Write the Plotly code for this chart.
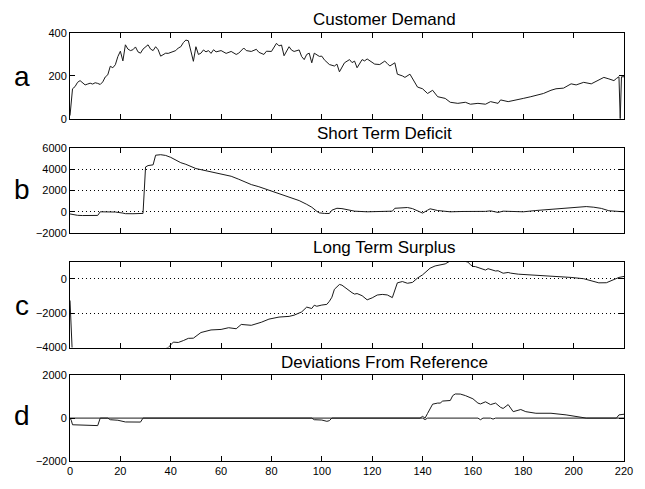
import plotly.graph_objects as go

# ---------------- data ----------------
x_ticks = [0, 20, 40, 60, 80, 100, 120, 140, 160, 180, 200, 220]

demand_x = [0, 1, 2, 3, 4, 5, 6, 7, 8, 9, 10, 11, 12, 13, 14, 15, 16, 17, 18, 19,
            20, 21, 22, 23, 24, 25, 26, 27, 28, 29, 30, 31, 32, 33, 34, 35, 36, 37, 38, 39,
            40, 41, 42, 43, 44, 45, 46, 47, 48, 49, 50, 51, 52, 53, 54, 55, 56, 57, 58, 60,
            62, 64, 66, 67, 69, 70, 72, 74, 75, 77, 78, 80, 82, 83, 84, 85, 87, 88, 89, 91,
            92, 93, 94, 95, 96, 97, 99, 100, 101, 103, 105, 106, 107, 108, 109, 111, 112, 113, 114, 116,
            117, 118, 120, 121, 123, 125, 126, 127, 129, 130, 132, 133, 135, 137, 138, 140, 142, 144, 146, 149,
            151, 154, 157, 159, 162, 165, 167, 170, 171, 174, 178, 180, 183, 186, 188, 191, 193, 196, 199, 201,
            204, 207, 209, 212, 214, 216, 217, 218, 218.5, 219, 220]
demand_y = [15, 140, 150, 170, 178, 170, 158, 162, 166, 162, 168, 165, 160, 172, 195, 205, 245, 238, 252, 290,
            315, 270, 345, 325, 318, 322, 335, 312, 306, 325, 335, 345, 325, 318, 336, 322, 292, 300, 306, 305,
            310, 312, 318, 330, 336, 355, 367, 364, 320, 268, 336, 300, 306, 321, 312, 318, 305, 322, 312, 318,
            305, 314, 300, 306, 330, 318, 314, 324, 310, 300, 315, 314, 352, 340, 344, 294, 336, 320, 314, 321,
            290, 276, 300, 306, 261, 306, 291, 292, 275, 253, 246, 255, 219, 240, 261, 276, 262, 269, 238, 276,
            270, 279, 261, 255, 253, 269, 258, 246, 261, 208, 200, 193, 208, 170, 148, 140, 118, 133, 103, 95,
            77, 72, 77, 68, 72, 68, 80, 72, 88, 80, 88, 95, 103, 110, 118, 133, 140, 143, 163, 158,
            170, 163, 174, 193, 186, 178, 188, 196, 0, 196, 196]

deficit_x = [0, 1, 3, 5, 8, 11, 12, 14, 18, 21, 22, 25, 28, 29, 30, 31, 33, 34, 36, 38,
             40, 42, 44, 46, 48, 50, 52, 55, 58, 61, 64, 67, 70, 72, 75, 78, 80, 83, 86, 88,
             91, 94, 96, 98, 99, 101, 103, 104, 106, 108, 110, 113, 118, 122, 126, 128, 129, 131, 134, 136,
             138, 140, 142, 143, 146, 151, 156, 162, 165, 167, 170, 172, 174, 177, 180, 185, 191, 195, 199, 202,
             205, 208, 211, 214, 217, 220]
deficit_y = [-200, -250, -330, -350, -350, -340, 0, 10, -20, -120, -175, -180, -180, -150, 4200, 4330, 4400, 5300, 5350, 5280,
             5100, 4850, 4600, 4450, 4250, 4050, 3950, 3800, 3650, 3500, 3330, 3050, 2750, 2550, 2350, 2100, 1950, 1750, 1500, 1340,
             1050, 700, 430, 50, -100, -150, -160, 150, 330, 300, 180, 60, 0, 20, 0, 60, 330, 350, 400, 300,
             100, -120, 150, 280, 120, 0, 30, 0, 40, 90, -60, 60, 50, 20, 0, 120, 250, 330, 400, 430,
             490, 430, 320, 100, 40, 0]

surplus_x = [0, 1, 5, 10, 15, 20, 25, 30, 35, 39, 41, 43, 45, 47, 49, 52, 56, 60, 63, 66,
             68, 72, 76, 79, 83, 87, 89, 92, 94, 96, 97, 98, 100, 102, 103, 104, 105, 107, 108, 110,
             112, 113, 114, 116, 118, 120, 122, 124, 126, 128, 129, 130, 132, 134, 136, 138, 140, 142, 143, 145,
             147, 149, 151, 153, 155, 157, 158, 159, 160, 161, 163, 165, 166, 167, 169, 170, 172, 174, 175, 178,
             183, 187, 191, 195, 199, 204, 206, 208, 210, 213, 216, 218, 220]
surplus_y = [-1255, -4600, -4700, -4800, -4700, -4600, -4500, -4350, -4200, -4000, -3680, -3700, -3590, -3460, -3450, -3120, -2970, -2940, -2840, -2900,
             -2650, -2700, -2520, -2340, -2220, -2180, -2110, -1920, -1640, -1720, -1530, -1590, -1520, -1480, -1300, -1065, -600, -320, -360, -600,
             -800, -880, -850, -975, -1215, -1100, -935, -900, -930, -1085, -700, -225, -150, -250, -200, 55, 240, 500, 630, 760,
             840, 880, 1050, 1150, 1120, 1050, 980, 840, 730, 720, 615, 520, 600, 560, 465, 480, 335, 380, 340, 280,
             240, 220, 150, 120, 90, 15, -60, -130, -225, -220, -40, 90, 150]

dev_pos_x = [0, 12, 13, 15, 16, 139, 140, 141, 142, 143, 144, 146, 147, 148, 150, 151, 152, 153, 155, 157,
             160, 162, 163, 164, 165, 167, 169, 171, 172, 174, 176, 179, 181, 185, 191, 197, 203, 205, 217, 218, 220]
dev_pos_y = [0, 0, 30, 20, 0, 0, 80, 0, 220, 450, 650, 700, 700, 795, 825, 820, 1050, 1125, 1120, 1050,
             900, 700, 660, 700, 760, 630, 700, 500, 450, 630, 300, 400, 300, 226, 226, 150, 45, 0, 0, 150, 180]

dev_neg_x = [0, 0.5, 1, 5, 8, 11, 12, 15, 16, 19, 22, 25, 28, 29, 96, 97, 100, 102, 103, 104,
             127, 128, 129, 140, 141, 142, 162, 163, 164, 167, 168, 169, 220]
dev_neg_y = [0, -100, -310, -340, -345, -350, 0, 0, -75, -100, -180, -190, -185, 0, 0, -75, -90, -150, -120, 0,
             0, -30, 0, 0, -70, 0, 0, -75, 0, 0, -45, 0, 0]

titles = ["Customer Demand", "Short Term Deficit", "Long Term Surplus", "Deviations From Reference"]
letters = ["a", "b", "c", "d"]

# ---------------- layout geometry ----------------
W, H = 645, 489
ML, MR, MT, MB = 70, 18, 33, 17
PW, PH = W - ML - MR, H - MT - MB


def px_x(px):
    return (px - ML) / PW


def px_y(py):
    return (H - MB - py) / PH


panel_px = [(33, 121), (150.7, 238.3), (267.7, 355.7), (384, 472)]
yranges = [[0, 400], [-2000, 6000], [-4000, 1000], [-2000, 2000]]
ytickvals = [[0, 200, 400], [-2000, 0, 2000, 4000, 6000], [-4000, -2000, 0], [-2000, 0, 2000]]
grids = [False, True, True, False]
title_py = [19, 136, 252.5, 370.5]
letter_py = [78, 194, 312, 425]

FONT = "Liberation Sans, Arial, Helvetica, sans-serif"

fig = go.Figure()
series = [
    [(demand_x, demand_y)],
    [(deficit_x, deficit_y)],
    [(surplus_x, surplus_y)],
    [(dev_neg_x, dev_neg_y), (dev_pos_x, dev_pos_y)],
]
for i, sl in enumerate(series):
    for xs, ys in sl:
        fig.add_trace(go.Scatter(
            x=xs, y=ys, mode="lines",
            line=dict(color="#1a1a1a", width=1),
            xaxis="x" if i == 0 else f"x{i+1}",
            yaxis="y" if i == 0 else f"y{i+1}",
            showlegend=False, hoverinfo="skip",
        ))

layout = dict(
    width=W, height=H,
    margin=dict(l=ML, r=MR, t=MT, b=MB),
    paper_bgcolor="white", plot_bgcolor="white",
    font=dict(family=FONT, size=11, color="black"),
    showlegend=False,
)
annotations = []
for i in range(4):
    top, bot = panel_px[i]
    sx = "" if i == 0 else str(i + 1)
    layout[f"xaxis{sx}"] = dict(
        domain=[0, 1], range=[0, 220], anchor=f"y{sx}",
        tickvals=x_ticks, showticklabels=(i == 3),
        ticks="inside", ticklen=5, tickcolor="black",
        showline=True, linecolor="black", linewidth=1, mirror="ticks",
        showgrid=False, zeroline=False,
        tickfont=dict(size=11, family=FONT, color="black"),
    )
    layout[f"yaxis{sx}"] = dict(
        domain=[px_y(bot), px_y(top)], range=yranges[i], anchor=f"x{sx}",
        tickvals=ytickvals[i],
        ticks="inside", ticklen=5, tickcolor="black",
        showline=True, linecolor="black", linewidth=1, mirror="ticks",
        showgrid=grids[i], gridcolor="black", gridwidth=1, griddash="1px,3px",
        zeroline=False,
        tickfont=dict(size=11, family=FONT, color="black"),
    )
    annotations.append(dict(
        text=titles[i], xref="paper", yref="paper",
        x=px_x(386), y=px_y(title_py[i]), xanchor="center", yanchor="middle",
        showarrow=False, font=dict(size=17, family=FONT, color="black"),
    ))
    annotations.append(dict(
        text=letters[i], xref="paper", yref="paper",
        x=px_x(22), y=px_y(letter_py[i]), xanchor="center", yanchor="middle",
        showarrow=False, font=dict(size=28, family=FONT, color="black"),
    ))
layout["annotations"] = annotations
fig.update_layout(**layout)

fig.write_html(
    "out.html",
    config={"displayModeBar": False, "staticPlot": True},
    post_script="document.body.style.margin='0';document.body.style.overflow='hidden';",
)
